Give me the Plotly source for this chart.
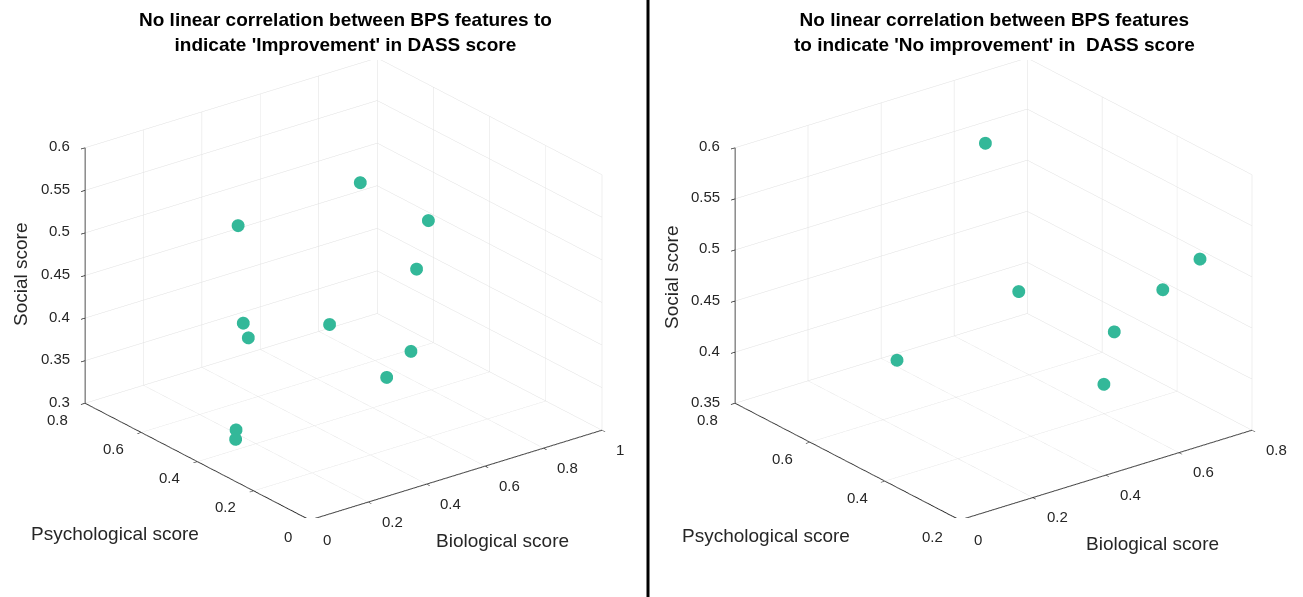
import plotly.graph_objects as go

# Left panel: 'Improvement'
imp_bio = [0.36, 0.73, 0.79, 0.74, 0.32, 0.27, 0.50, 0.74, 0.58, 0.18, 0.14]
imp_psy = [0.63, 0.58, 0.40, 0.39, 0.57, 0.50, 0.45, 0.41, 0.33, 0.45, 0.41]
imp_soc = [0.50, 0.52, 0.50, 0.45, 0.40, 0.40, 0.40, 0.35, 0.35, 0.31, 0.31]

# Right panel: 'No improvement'
noimp_bio = [0.48, 0.77, 0.74, 0.52, 0.32, 0.72, 0.63]
noimp_psy = [0.60, 0.31, 0.38, 0.55, 0.68, 0.49, 0.43]
noimp_soc = [0.59, 0.50, 0.46, 0.45, 0.38, 0.40, 0.37]

left_bio_ticks = [0, 0.2, 0.4, 0.6, 0.8, 1]
left_psy_ticks = [0, 0.2, 0.4, 0.6, 0.8]
left_soc_ticks = [0.3, 0.35, 0.4, 0.45, 0.5, 0.55, 0.6]
right_bio_ticks = [0, 0.2, 0.4, 0.6, 0.8]
right_psy_ticks = [0.2, 0.4, 0.6, 0.8]
right_soc_ticks = [0.35, 0.4, 0.45, 0.5, 0.55, 0.6]

title_left = ["No linear correlation between BPS features to",
              "indicate 'Improvement' in DASS score"]
title_right = ["No linear correlation between BPS features",
               "to indicate 'No improvement' in  DASS score"]

MARK = "#33b899"
GRID = "#e0e0e0"
TXT = "#262626"
FONT = "Liberation Sans, Arial, sans-serif"

W, H = 1303, 597
T, B = 60, 79
PH = H - T - B


def px(xp):
    return xp / W


def py(yp):
    return 1 - (yp - T) / PH


fig = go.Figure()
fig.add_trace(go.Scatter3d(x=imp_bio, y=imp_psy, z=imp_soc, mode="markers",
                           marker=dict(size=7.5, color=MARK, line=dict(width=0), opacity=1),
                           scene="scene", showlegend=False, hoverinfo="x+y+z"))
fig.add_trace(go.Scatter3d(x=noimp_bio, y=noimp_psy, z=noimp_soc, mode="markers",
                           marker=dict(size=7.5, color=MARK, line=dict(width=0), opacity=1),
                           scene="scene2", showlegend=False, hoverinfo="x+y+z"))


def ax(rng, ticks):
    return dict(range=rng, tickvals=ticks, showticklabels=False,
                showgrid=True, gridcolor=GRID, gridwidth=1,
                showline=True, linecolor="#1f1f1f", linewidth=2,
                ticks="outside", tickcolor="#1f1f1f", ticklen=5, tickwidth=1.5,
                zeroline=False, showbackground=False, showspikes=False,
                title=dict(text=""))


def tick_annots(bio_ticks, psy_ticks, soc_ticks, xr, yr, zr):
    f = dict(family=FONT, size=15, color=TXT)
    out = []
    for t in soc_ticks:
        out.append(dict(x=xr[0], y=yr[1], z=t, text="%g" % t, showarrow=False,
                        xanchor="right", yanchor="middle", xshift=-13, yshift=2, font=f))
    for t in bio_ticks:
        out.append(dict(x=t, y=yr[0], z=zr[0], text="%g" % t, showarrow=False,
                        xanchor="left", yanchor="middle", xshift=12, yshift=-19, font=f))
    for t in psy_ticks:
        out.append(dict(x=xr[0], y=t, z=zr[0], text="%g" % t, showarrow=False,
                        xanchor="right", yanchor="middle", xshift=-15, yshift=-16, font=f))
    return out


cam = dict(eye=dict(x=-1.0, y=-1.3, z=0.715), up=dict(x=0, y=0, z=1),
           center=dict(x=0, y=0, z=0), projection=dict(type="orthographic"))
ASPECT = dict(x=1.61, y=1.61, z=1.217)

L_x, L_y, L_z = [0, 1], [0, 0.8], [0.3, 0.6]
R_x, R_y, R_z = [0, 0.8], [0.2, 0.8], [0.35, 0.6]


def title_text(lines):
    return "<br>".join("<b>%s</b>" % s for s in lines)


lab = dict(family=FONT, size=19, color=TXT)


def label(text, x, y, angle=0):
    return dict(text=text, x=px(x), y=py(y), xref="paper", yref="paper",
                showarrow=False, textangle=angle, font=lab,
                xanchor="center", yanchor="middle")


annotations = [
    dict(text=title_text(title_left), x=px(345), y=py(32), xref="paper", yref="paper",
         showarrow=False, font=dict(family=FONT, size=19, color="black"),
         xanchor="center", yanchor="middle"),
    dict(text=title_text(title_right), x=px(994), y=py(32), xref="paper", yref="paper",
         showarrow=False, font=dict(family=FONT, size=19, color="black"),
         xanchor="center", yanchor="middle"),
    label("Social score", 20, 274, -90),
    label("Psychological score", 115, 533),
    label("Biological score", 502, 540),
    label("Social score", 671, 277, -90),
    label("Psychological score", 766, 535),
    label("Biological score", 1152, 543),
]

fig.update_layout(
    width=W, height=H,
    margin=dict(l=0, r=0, t=T, b=B),
    paper_bgcolor="white",
    scene=dict(domain=dict(x=[0.0265, 0.5], y=[0, 1]),
               xaxis=ax(L_x, left_bio_ticks),
               yaxis=ax(L_y, left_psy_ticks),
               zaxis=ax(L_z, left_soc_ticks),
               aspectmode="manual", aspectratio=ASPECT,
               camera=cam, bgcolor="white",
               annotations=tick_annots(left_bio_ticks, left_psy_ticks, left_soc_ticks, L_x, L_y, L_z)),
    scene2=dict(domain=dict(x=[0.525, 1.0], y=[0, 1]),
                xaxis=ax(R_x, right_bio_ticks),
                yaxis=ax(R_y, right_psy_ticks),
                zaxis=ax(R_z, right_soc_ticks),
                aspectmode="manual", aspectratio=ASPECT,
                camera=cam, bgcolor="white",
                annotations=tick_annots(right_bio_ticks, right_psy_ticks, right_soc_ticks, R_x, R_y, R_z)),
    shapes=[dict(type="line", xref="paper", yref="paper", x0=px(648), x1=px(648),
                 y0=py(0), y1=py(H), line=dict(color="black", width=3))],
    annotations=annotations,
)

fig.write_html("out.html", config={"displayModeBar": False},
               post_script="document.body.style.margin='0';document.body.style.overflow='hidden';")
